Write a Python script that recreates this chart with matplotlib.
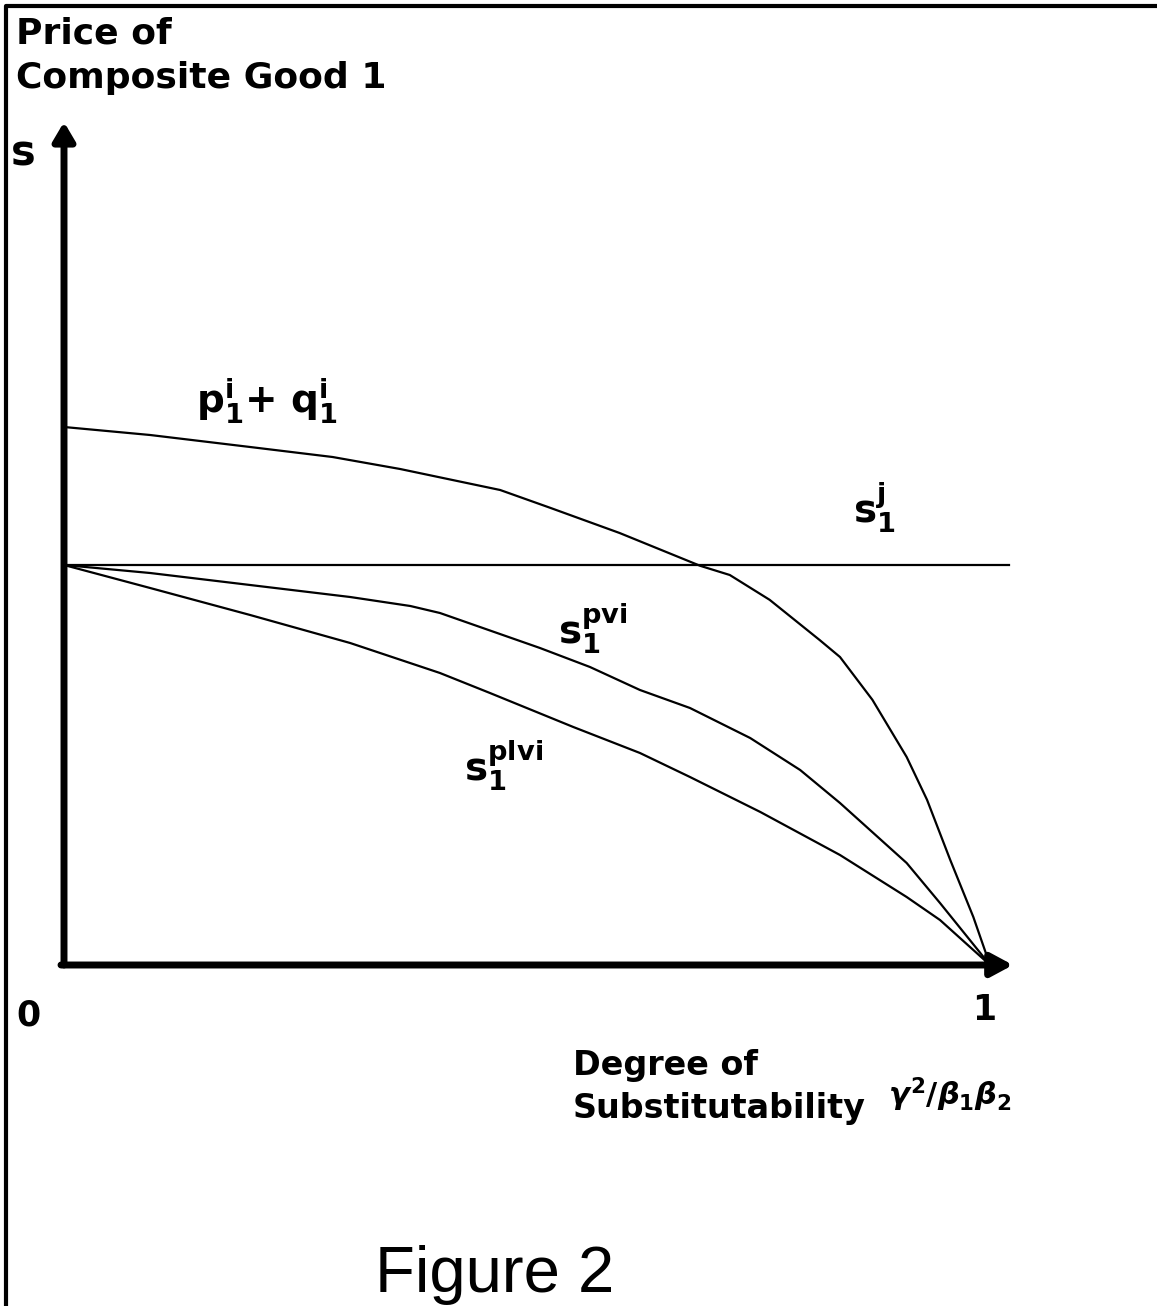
import matplotlib
matplotlib.use("Agg")
import matplotlib.pyplot as plt

plt.rcParams['font.family'] = ['DejaVu Sans']
plt.rcParams['mathtext.fontset'] = 'custom'
plt.rcParams['mathtext.rm'] = 'DejaVu Sans:bold'
plt.rcParams['mathtext.it'] = 'DejaVu Sans:bold:italic'
plt.rcParams['mathtext.bf'] = 'DejaVu Sans:bold'

# ---- data (x: degree of substitutability 0..1, y: price relative to s_1^j) ----
x_pq = [0.0, 0.093, 0.201, 0.29, 0.363, 0.471, 0.525, 0.60, 0.687, 0.719, 0.762,
        0.816, 0.838, 0.873, 0.910, 0.932, 0.957, 0.982, 1.0]
y_pq = [1.345, 1.325, 1.295, 1.27, 1.24, 1.1875, 1.143, 1.08, 0.998, 0.975, 0.913,
        0.8125, 0.77, 0.663, 0.52, 0.413, 0.263, 0.12, 0.0]

x_pvi = [0.0, 0.093, 0.201, 0.309, 0.374, 0.406, 0.514, 0.568, 0.622, 0.676, 0.741,
         0.795, 0.838, 0.910, 0.946, 1.0]
y_pvi = [1.0, 0.98, 0.95, 0.92, 0.8975, 0.88, 0.7925, 0.745, 0.6875, 0.6425, 0.5675,
         0.4875, 0.405, 0.255, 0.155, 0.0]

x_plvi = [0.0, 0.093, 0.201, 0.309, 0.406, 0.46, 0.55, 0.622, 0.676, 0.752, 0.838,
          0.91, 0.946, 1.0]
y_plvi = [1.0, 0.9425, 0.875, 0.805, 0.73, 0.68, 0.595, 0.53, 0.47, 0.3825, 0.275,
          0.17, 0.1125, 0.0]

x_sj = [0.0, 1.02]
y_sj = [1.0, 1.0]

W, H = 1157, 1306
fig = plt.figure(figsize=(W / 100, H / 100), dpi=100)
ax = fig.add_axes([0, 0, 1, 1])
# pixel mapping: x=0 at px 64, x=1 at px 990; y=0 at py 965, y=1 at py 565
x0, xs = 64, 926
y0, ys = 965, 400
ax.set_xlim(-x0 / xs, (W - x0) / xs)
ax.set_ylim((y0 - H) / ys, y0 / ys)
ax.axis('off')

def X(px):
    return (px - x0) / xs

def Y(py):
    return (y0 - py) / ys

# frame (left and top)
ax.plot([X(6), X(6), X(W)], [Y(H), Y(6), Y(6)], color='black', lw=3,
        solid_capstyle='butt', clip_on=False)

# axes with arrows
ax.annotate('', xy=(0, Y(122)), xytext=(0, 0),
            arrowprops=dict(arrowstyle='-|>,head_length=1.1,head_width=0.65',
                            lw=5, color='black', shrinkA=0, shrinkB=0))
ax.annotate('', xy=(X(1013), 0), xytext=(X(61), 0),
            arrowprops=dict(arrowstyle='-|>,head_length=1.3,head_width=0.7',
                            lw=5, color='black', shrinkA=0, shrinkB=0))

# curves
for xv, yv in [(x_pq, y_pq), (x_pvi, y_pvi), (x_plvi, y_plvi), (x_sj, y_sj)]:
    ax.plot(xv, yv, color='black', lw=1.6, solid_joinstyle='round')

# texts
bold = dict(fontweight='bold', ha='left', va='baseline')
ax.text(X(16), Y(43), 'Price of', fontsize=26, **bold)
ax.text(X(16), Y(88), 'Composite Good 1', fontsize=26, **bold)
ax.text(X(11), Y(165), 's', fontsize=30, **bold)
ax.text(X(16), Y(1025), '0', fontsize=25, **bold)
ax.text(X(972), Y(1020), '1', fontsize=25, **bold)

ax.text(X(196), Y(413), r'$\mathrm{p}_\mathrm{1}^\mathrm{i}\mathrm{+}\ \mathrm{q}_\mathrm{1}^\mathrm{i}$',
        fontsize=28, ha='left', va='baseline')
ax.text(X(853), Y(522), r'$\mathrm{s}_\mathrm{1}^\mathrm{j}$', fontsize=28, ha='left', va='baseline')
ax.text(X(558), Y(643), r'$\mathrm{s}_\mathrm{1}^\mathrm{pvi}$', fontsize=28, ha='left', va='baseline')
ax.text(X(464), Y(780), r'$\mathrm{s}_\mathrm{1}^\mathrm{plvi}$', fontsize=28, ha='left', va='baseline')

ax.text(X(573), Y(1075), 'Degree of', fontsize=24, **bold)
ax.text(X(573), Y(1118), 'Substitutability', fontsize=24, **bold)
ax.text(X(888), Y(1105), r'$\gamma^\mathrm{2}/\beta_\mathrm{1}\beta_\mathrm{2}$', fontsize=22,
        ha='left', va='baseline')

ax.text(X(375), Y(1292), 'Figure 2', fontsize=47, family='Liberation Sans',
        ha='left', va='baseline')

fig.savefig('out.png', dpi=100)
